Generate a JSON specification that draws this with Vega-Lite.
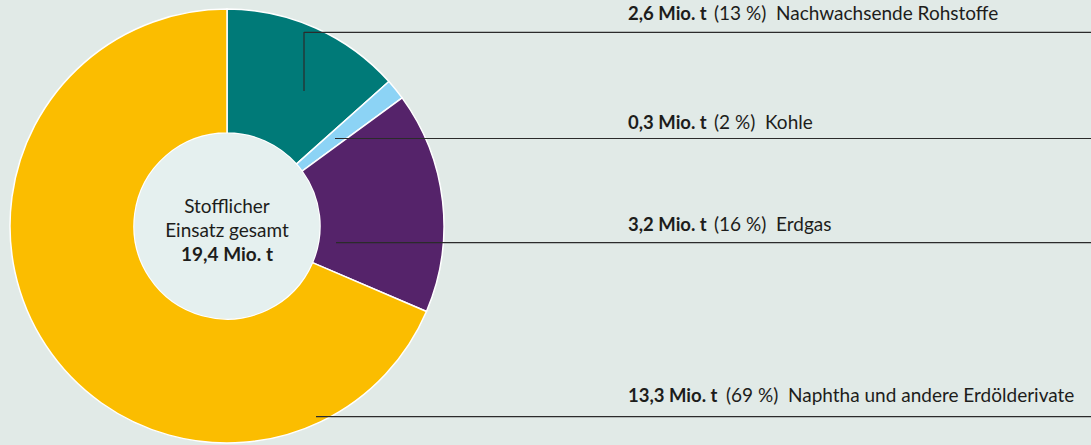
{
  "$schema": "https://vega.github.io/schema/vega-lite/v6.json",
  "width": 1091,
  "height": 445,
  "padding": 0,
  "autosize": "none",
  "background": "#e1eae7",
  "config": {
    "view": {"stroke": null},
    "text": {"font": "Lato", "fontSize": 19, "color": "#1d1d1b", "baseline": "alphabetic"}
  },
  "datasets": {
    "shares": [
      {"name": "Nachwachsende Rohstoffe", "value": 2.6, "amount": "2,6 Mio. t", "detail": "(13 %)\u00a0 Nachwachsende Rohstoffe", "rank": 1},
      {"name": "Kohle", "value": 0.3, "amount": "0,3 Mio. t", "detail": "(2 %)\u00a0 Kohle", "rank": 2},
      {"name": "Erdgas", "value": 3.2, "amount": "3,2 Mio. t", "detail": "(16 %)\u00a0 Erdgas", "rank": 3},
      {"name": "Naphtha und andere Erdölderivate", "value": 13.3, "amount": "13,3 Mio. t", "detail": "(69 %)\u00a0 Naphtha und andere Erdölderivate", "rank": 4}
    ],
    "center": [
      {"title": ["Stofflicher", "Einsatz gesamt"], "total": "19,4 Mio. t"}
    ]
  },
  "data": {"name": "shares"},
  "resolve": {"scale": {"x": "independent", "y": "independent"}},
  "layer": [
    {
      "mark": {"type": "arc", "outerRadius": 217, "innerRadius": 93, "stroke": "#ffffff", "strokeWidth": 1.5},
      "encoding": {
        "theta": {"field": "value", "type": "quantitative", "stack": true},
        "order": {"field": "rank", "type": "quantitative"},
        "color": {
          "field": "name",
          "type": "nominal",
          "legend": null,
          "scale": {
            "domain": ["Nachwachsende Rohstoffe", "Kohle", "Erdgas", "Naphtha und andere Erdölderivate"],
            "range": ["#007a78", "#8cd3f5", "#55236a", "#fbbd00"]
          }
        },
        "x": {"value": 227},
        "y": {"value": 226}
      }
    },
    {
      "data": {"name": "center"},
      "mark": {"type": "arc", "radius": 92.5, "theta": 0, "theta2": 6.2832, "fill": "#e5f0ef"},
      "encoding": {"x": {"value": 227}, "y": {"value": 226}}
    },
    {
      "data": {"name": "center"},
      "mark": {"type": "text", "align": "center", "lineHeight": 24},
      "encoding": {"text": {"field": "title"}, "x": {"value": 227}, "y": {"value": 213}}
    },
    {
      "data": {"name": "center"},
      "mark": {"type": "text", "align": "center", "fontWeight": "bold"},
      "encoding": {"text": {"field": "total"}, "x": {"value": 227}, "y": {"value": 261}}
    },
    {
      "mark": {"type": "rule", "color": "#2b2b2b", "strokeWidth": 1.2},
      "encoding": {
        "x": {"field": "rank", "type": "quantitative", "axis": null, "scale": {"domain": [1, 2, 3, 4], "range": [304, 335, 336, 316], "nice": false, "zero": false}},
        "x2": {"value": 1091},
        "y": {"field": "rank", "type": "quantitative", "axis": null, "scale": {"domain": [1, 2, 3, 4], "range": [32.3, 138.5, 242.7, 416.7], "nice": false, "zero": false}}
      }
    },
    {
      "transform": [{"filter": "datum.rank == 1"}],
      "mark": {"type": "rule", "color": "#2b2b2b", "strokeWidth": 1.2},
      "encoding": {"x": {"value": 304}, "y": {"value": 32}, "y2": {"value": 91}}
    },
    {
      "mark": {"type": "text", "align": "left", "fontWeight": "bold", "fontSize": 18.5},
      "encoding": {
        "text": {"field": "amount"},
        "x": {"value": 628},
        "y": {"field": "rank", "type": "quantitative", "axis": null, "scale": {"domain": [1, 2, 3, 4], "range": [20, 129.3, 231, 401.7], "nice": false, "zero": false}}
      }
    },
    {
      "mark": {"type": "text", "align": "left"},
      "encoding": {
        "text": {"field": "detail"},
        "x": {"field": "rank", "type": "quantitative", "axis": null, "scale": {"domain": [1, 2, 3, 4], "range": [714, 714, 714, 726], "nice": false, "zero": false}},
        "y": {"field": "rank", "type": "quantitative", "axis": null, "scale": {"domain": [1, 2, 3, 4], "range": [20, 129.3, 231, 401.7], "nice": false, "zero": false}}
      }
    }
  ]
}
